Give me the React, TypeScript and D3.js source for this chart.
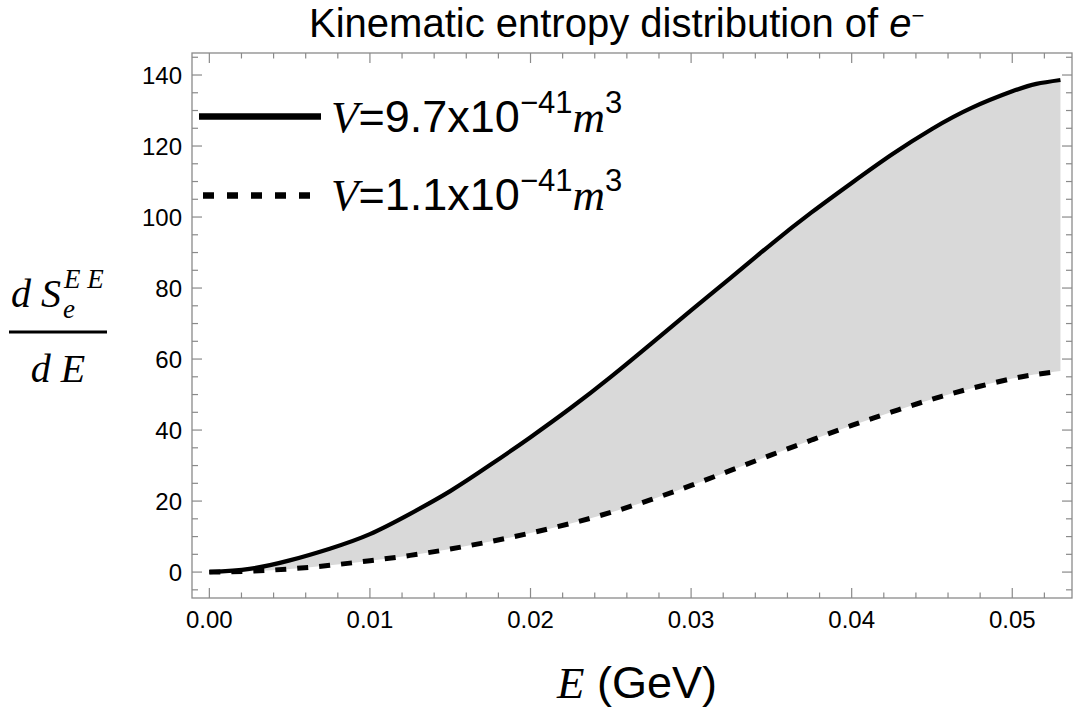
import React from "react";
import * as d3 from "d3";

// energy grid (GeV)
const energies = [
  0, 0.0025, 0.005, 0.0075, 0.01, 0.0125, 0.015, 0.0175, 0.02, 0.0225, 0.025,
  0.0275, 0.03, 0.0325, 0.035, 0.0375, 0.04, 0.0425, 0.045, 0.0475, 0.05,
  0.0515, 0.053,
];
// V = 9.7e-41 m^3 (solid)
const bigV = [
  0, 0.9, 3.3, 6.6, 10.7, 16.4, 22.8, 30.2, 38, 46.2, 55, 64.3, 73.7, 83, 92.4,
  101.3, 109.6, 117.6, 124.8, 130.8, 135.4, 137.5, 138.6,
];
// V = 1.1e-41 m^3 (dashed)
const smallV = [
  0, 0.25, 0.9, 1.9, 3.2, 4.7, 6.5, 8.6, 11, 13.7, 16.8, 20.4, 24.4, 28.7, 33,
  37.2, 41.3, 45.1, 48.7, 51.8, 54.5, 55.7, 56.6,
];
const xTicks = [0, 0.01, 0.02, 0.03, 0.04, 0.05];
const yTicks = [0, 20, 40, 60, 80, 100, 120, 140];

const W = 1073;
const H = 709;
const left = 192;
const right = 1072;
const top = 53;
const bottom = 598;

const sans = "Liberation Sans, Arial, sans-serif";
const serif = "Liberation Serif, Times New Roman, serif";
const frameColor = "#8a8a8a";

type Row = { e: number; a: number; b: number };

export default function App() {
  const x = d3.scaleLinear().domain([-0.00108, 0.05372]).range([left, right]);
  const y = d3.scaleLinear().domain([-7.3, 146.2]).range([bottom, top]);

  const rows: Row[] = energies.map((e, i) => ({ e, a: bigV[i], b: smallV[i] }));

  const line = (key: "a" | "b") =>
    d3
      .line<Row>()
      .x((d) => x(d.e))
      .y((d) => y(d[key]))
      .curve(d3.curveNatural)(rows) as string;

  const area = d3
    .area<Row>()
    .x((d) => x(d.e))
    .y0((d) => y(d.b))
    .y1((d) => y(d.a))
    .curve(d3.curveNatural)(rows) as string;

  const xMinor = d3
    .range(0, 0.0537, 0.002)
    .filter((v) => !xTicks.some((t) => Math.abs(t - v) < 1e-9));
  const yMinor = d3.range(-5, 146, 5).filter((v) => v % 20 !== 0);

  return (
    <svg
      width={W}
      height={H}
      style={{ position: "absolute", left: 0, top: 0, background: "#fff" }}
    >
      <path d={area} fill="#d9d9d9" />
      <path d={line("a")} fill="none" stroke="#000" strokeWidth={4.2} />
      <path
        d={line("b")}
        fill="none"
        stroke="#000"
        strokeWidth={5}
        strokeDasharray="11 11"
      />

      {/* frame */}
      <rect
        x={left}
        y={top}
        width={right - left}
        height={bottom - top}
        fill="none"
        stroke={frameColor}
        strokeWidth={1.3}
      />

      {/* ticks on all four sides */}
      <g stroke={frameColor} strokeWidth={1.2}>
        {xTicks.map((t) => (
          <g key={"xt" + t}>
            <line x1={x(t)} x2={x(t)} y1={bottom} y2={bottom - 10} />
            <line x1={x(t)} x2={x(t)} y1={top} y2={top + 10} />
          </g>
        ))}
        {xMinor.map((t) => (
          <g key={"xm" + t}>
            <line x1={x(t)} x2={x(t)} y1={bottom} y2={bottom - 5.5} />
            <line x1={x(t)} x2={x(t)} y1={top} y2={top + 5.5} />
          </g>
        ))}
        {yTicks.map((t) => (
          <g key={"yt" + t}>
            <line x1={left} x2={left + 10} y1={y(t)} y2={y(t)} />
            <line x1={right} x2={right - 10} y1={y(t)} y2={y(t)} />
          </g>
        ))}
        {yMinor.map((t) => (
          <g key={"ym" + t}>
            <line x1={left} x2={left + 6} y1={y(t)} y2={y(t)} />
            <line x1={right} x2={right - 6} y1={y(t)} y2={y(t)} />
          </g>
        ))}
      </g>

      {/* tick labels */}
      <g fontFamily={sans} fontSize={24} fill="#000">
        {xTicks.map((t) => (
          <text key={"xl" + t} x={x(t)} y={628} textAnchor="middle">
            {d3.format(".2f")(t)}
          </text>
        ))}
        {yTicks.map((t) => (
          <text key={"yl" + t} x={182} y={y(t) + 8.5} textAnchor="end">
            {t}
          </text>
        ))}
      </g>

      {/* title */}
      <text x={309} y={37} fontFamily={sans} fontSize={40}>
        Kinematic entropy distribution of{" "}
        <tspan fontStyle="italic">e</tspan>
        <tspan fontSize={22} dy={-14}>−</tspan>
      </text>

      {/* legend */}
      <line x1={199} x2={321} y1={116.5} y2={116.5} stroke="#000" strokeWidth={6.5} />
      <line
        x1={203}
        x2={315}
        y1={195.5}
        y2={195.5}
        stroke="#000"
        strokeWidth={6.5}
        strokeDasharray="11 13"
      />
      {[
        { v: "9.7", yb: 132 },
        { v: "1.1", yb: 210 },
      ].map((l) => (
        <text key={l.v} x={331} y={l.yb} fontSize={45} fontFamily={sans}>
          <tspan fontFamily={serif} fontStyle="italic">V</tspan>
          <tspan>={l.v}x10</tspan>
          <tspan fontSize={31} dy={-19}>−41</tspan>
          <tspan fontFamily={serif} fontStyle="italic" dy={19}>m</tspan>
          <tspan fontSize={31} dy={-19}>3</tspan>
        </text>
      ))}

      {/* y label */}
      <g fontFamily={serif} fontStyle="italic" fill="#000">
        <text x={11} y={307} fontSize={40}>d S</text>
        <text x={63} y={318} fontSize={27}>e</text>
        <text x={64} y={288} fontSize={27}>E E</text>
        <line x1={9} x2={107} y1={332} y2={332} stroke="#000" strokeWidth={3} />
        <text x={58} y={382} fontSize={40} textAnchor="middle">d E</text>
      </g>

      {/* x label */}
      <text x={557} y={698} fontSize={45} fontFamily={sans}>
        <tspan fontFamily={serif} fontStyle="italic">E</tspan>
        <tspan> (GeV)</tspan>
      </text>
    </svg>
  );
}
